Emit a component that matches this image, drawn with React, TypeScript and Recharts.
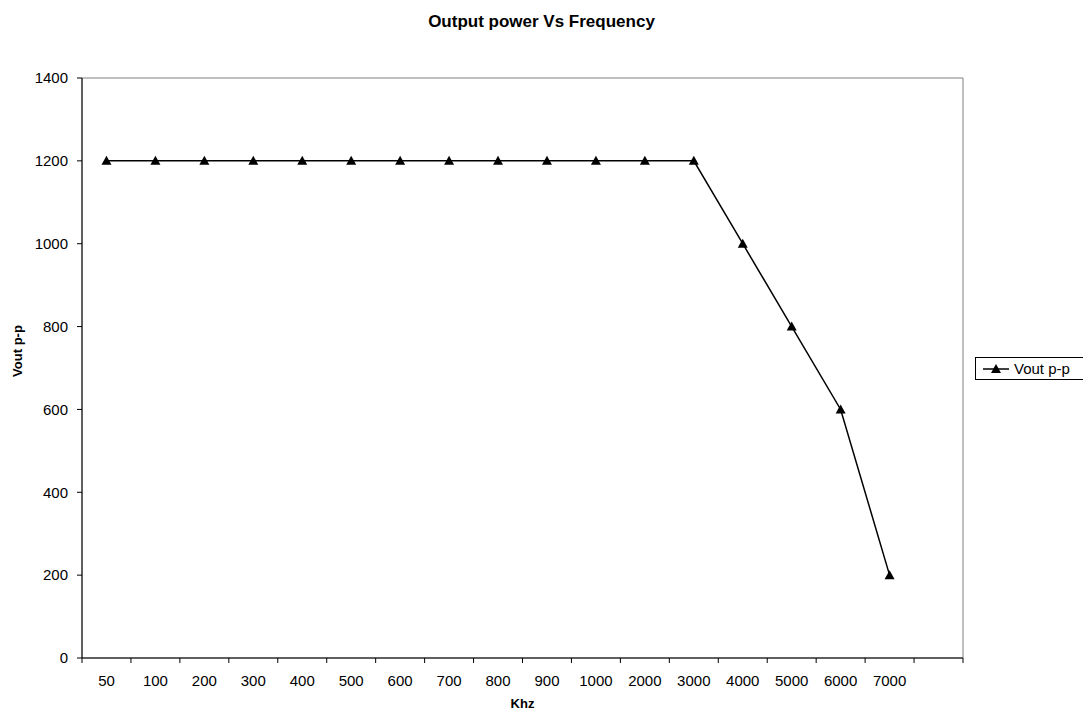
import React from 'react';
import { LineChart, Line, XAxis, YAxis, ReferenceArea, Label } from 'recharts';

// frequency categories (Khz); the last slot is empty like the source sheet
const freqLabels = ['50', '100', '200', '300', '400', '500', '600', '700', '800', '900', '1000', '2000', '3000', '4000', '5000', '6000', '7000', ''];
const voutValues: (number | null)[] = [1200, 1200, 1200, 1200, 1200, 1200, 1200, 1200, 1200, 1200, 1200, 1200, 1200, 1000, 800, 600, 200, null];
const yTicks = [0, 200, 400, 600, 800, 1000, 1200, 1400];

const W = 1083;
const H = 715;
const FONT = '"Liberation Sans", Arial, sans-serif';

const rows = freqLabels.map((label, i) => ({ pos: i + 0.5, label, vout: voutValues[i] }));
const N = freqLabels.length;
const boundaryTicks = Array.from({ length: N + 1 }, (_, i) => i);

const Triangle = (props: any) => {
  const { cx, cy, payload } = props;
  if (payload?.vout == null || cx == null || cy == null) return <g />;
  return <path d={`M${cx},${cy - 5} L${cx + 5},${cy + 4} L${cx - 5},${cy + 4} Z`} fill="#000" />;
};

// tick marks between categories (Excel style), pointing down, no text
const BoundaryTick = (props: any) => {
  const { x, y } = props;
  return <line x1={x} y1={y} x2={x} y2={y + 5} stroke="#000" strokeWidth={1} />;
};

// rotated axis title, sits a bit above the plot's middle like Excel does
const YTitle = (props: any) => {
  const vb = props.viewBox || {};
  const cy = vb.y + vb.height / 2 - 17;
  return (
    <text
      x={17}
      y={cy}
      transform={`rotate(-90, 17, ${cy})`}
      textAnchor="middle"
      dominantBaseline="central"
      style={{ fontWeight: 'bold', fontSize: 13, fill: '#000', fontFamily: FONT }}
    >
      Vout p-p
    </text>
  );
};

export default function App() {
  return (
    <div style={{ position: 'absolute', left: 0, top: 0, width: W, height: H, fontFamily: FONT, background: '#fff' }}>
      <div style={{ position: 'absolute', top: 12, left: 0, width: W, textAlign: 'center', fontSize: 17, fontWeight: 'bold' }}>
        Output power Vs Frequency
      </div>

      <LineChart width={W} height={H} data={rows} margin={{ top: 78, right: 120, bottom: 0, left: 0 }}>
        <ReferenceArea xAxisId="grid" x1={0} x2={N} y1={0} y2={1400} fill="none" stroke="#808080" strokeWidth={1} ifOverflow="visible" />
        <XAxis
          xAxisId="grid"
          type="number"
          dataKey="pos"
          domain={[0, N]}
          ticks={boundaryTicks}
          interval={0}
          tick={<BoundaryTick />}
          tickLine={false}
          tickSize={0}
          tickMargin={0}
          height={1}
          stroke="#000"
          allowDecimals
        />
        <XAxis
          xAxisId="lbl"
          type="number"
          dataKey="pos"
          domain={[0, N]}
          ticks={rows.map((r) => r.pos)}
          tickFormatter={(v: number) => freqLabels[Math.floor(v)]}
          axisLine={false}
          tickLine={false}
          interval={0}
          height={56}
          tick={{ fill: '#000', fontSize: 15, fontFamily: FONT }}
          tickMargin={10}
        >
          <Label value="Khz" position="insideBottom" offset={7} style={{ fontWeight: 'bold', fontSize: 13, fill: '#000', fontFamily: FONT }} />
        </XAxis>
        <YAxis
          domain={[0, 1400]}
          ticks={yTicks}
          interval={0}
          width={82}
          tickSize={5}
          tickMargin={9}
          stroke="#000"
          tick={{ fill: '#000', fontSize: 15, fontFamily: FONT }}
        >
          <Label content={<YTitle />} />
        </YAxis>
        <Line
          xAxisId="grid"
          type="linear"
          dataKey="vout"
          name="Vout p-p"
          stroke="#000"
          strokeWidth={1.5}
          dot={<Triangle />}
          activeDot={false}
          isAnimationActive={false}
        />
      </LineChart>

      <div
        style={{
          position: 'absolute',
          left: 975,
          top: 357,
          width: 120,
          height: 21,
          border: '1px solid #000',
          display: 'flex',
          alignItems: 'center',
          fontSize: 15,
        }}
      >
        <svg width={32} height={12} style={{ marginLeft: 6 }}>
          <line x1={1} y1={6} x2={27} y2={6} stroke="#000" strokeWidth={1.5} />
          <path d="M14,1 L19,10 L9,10 Z" fill="#000" />
        </svg>
        <span>Vout p-p</span>
      </div>
    </div>
  );
}
